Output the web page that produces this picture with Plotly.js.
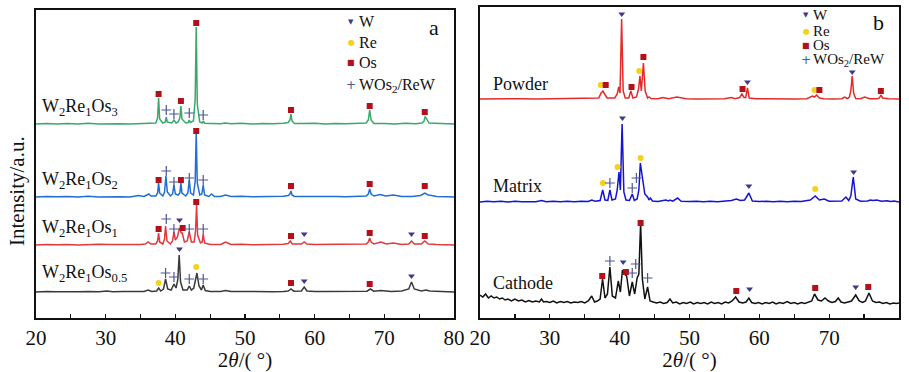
<!DOCTYPE html>
<html><head><meta charset="utf-8">
<script src="https://cdn.plot.ly/plotly-3.0.1.min.js"></script>
<style>html,body{margin:0;padding:0;background:#fff}</style>
</head><body><div id="chart" style="width:909px;height:372px"></div>
<script>
// ---------- Panel a: 2θ (deg) and intensity above each pattern's baseline (a.u.) ----------
const aNames = ['W<sub>2</sub>Re<sub>1</sub>Os<sub>3</sub>', 'W<sub>2</sub>Re<sub>1</sub>Os<sub>2</sub>', 'W<sub>2</sub>Re<sub>1</sub>Os<sub>1</sub>', 'W<sub>2</sub>Re<sub>1</sub>Os<sub>0.5</sub>'];
const aOffsets = [194, 121, 73, 26];

const os3X = [20,21.5,23,24.5,26,27.5,29,30.5,32,33.5,35,36.2,37.2,37.45,37.6,37.75,38.2,38.55,38.7,38.85,39.5,39.8,40.1,40.4,40.65,40.8,40.95,41.5,41.85,42.0,42.15,42.6,42.85,43.0,43.15,43.5,43.85,44.0,44.2,45.2,46.5,47.2,48,49.5,51,52.5,54,55.5,56.2,56.45,56.6,56.75,57.1,58.5,60,61.5,63,64.5,66,67.4,67.7,67.9,68.1,68.5,70,71.5,73,74.5,75.4,75.7,75.85,76.0,76.4,77.5,79,80];
const os3Y = [0,0.6,0,0.5,0,0.7,0,0.5,0.3,0,0.6,0.8,1,6,26,5,1,2,7,2,1,4,1,2,6,18,5,1,1.5,4,1.5,3,25,97,20,2,1,3,0.8,0.6,0.3,1,0.3,0.8,0,0.6,0.2,0.7,1.5,4,10,3,0.5,0.4,0.7,0,0.6,0.3,0.8,1,4,14,4,0.5,0.6,0,0.7,0.3,1,3,7,6,1,0.5,0.3,0];

const os2X = [20,21.5,23,24.5,26,27.5,29,30.5,32,33.5,34.7,35.5,36.0,36.2,36.5,37.2,37.45,37.6,37.75,38.2,38.45,38.65,38.85,39.3,39.6,39.8,40.0,40.4,40.65,40.8,40.95,41.5,41.8,42.0,42.2,42.6,42.85,43.0,43.15,43.5,43.8,44.0,44.2,44.8,45.2,45.6,46.5,47.2,48,49.5,51,52.5,54,55.5,56.2,56.45,56.6,56.75,57.1,58.5,60,61.5,63,64.5,66,67.4,67.7,67.9,68.1,68.5,69.4,70.2,71.3,72.5,74,75.2,75.8,76.3,76.8,77.5,79,80];
const os2Y = [0,0.6,0.2,0.5,0,0.7,0,0.5,0.3,0,1.5,0.5,2,3,1,1,4,14,4,1,5,21,5,1,3,12,3,2,4,14,4,1,4,17,4,2,16,64,14,2,3,12,2,0.5,3,0.5,0.5,2,0.5,0.8,0.3,0.6,0.3,0.7,1.5,3,6,2,0.5,0.6,0.4,0.5,0.4,0.2,0.8,1,3,8,3,1,2.5,1,2,0.5,0.5,1.5,4,2,1.5,0.5,0.3,0];

const os1X = [20,21.5,23,24.5,26,27.5,29,30.5,32,33.5,35,35.7,36.1,36.5,37.2,37.45,37.6,37.75,38.2,38.45,38.6,38.8,39.3,39.6,39.8,40.0,40.3,40.6,40.85,41.0,41.3,41.7,42.0,42.3,42.7,42.9,43.05,43.2,43.6,43.85,44.0,44.2,45,46.5,47.2,48,49.5,51,52.5,54,55.5,56.2,56.5,56.8,58.1,58.5,58.9,60,61.5,63,64.5,66,67.4,67.7,67.9,68.1,68.5,69.5,70.3,71.3,72.5,73.5,73.9,74.3,75.3,75.8,76.3,77.5,79,80];
const os1Y = [0,0.6,0.2,0.5,0,0.7,0.8,0.5,0.3,0,0.5,1,3,1,1,4,12,3,1,6,19,4,1,4,13,5,8,17,12,12,3,4,13,3,3,14,40,10,2,3,11,2,0.5,0.5,3,0.5,0.8,0.3,0.6,0.3,0.7,1.5,4,1,1,3,1,0.4,0.5,0.4,0.2,0.8,1,3,7,3,1,3,1,2,0.5,1,4,1,1,4,1,0.5,0.3,0];

const os05X = [20,21.5,23,24.5,26,27.5,29,30.2,31,32.5,34,35.5,36.1,36.6,37.3,37.6,37.9,38.3,38.6,38.9,39.4,39.8,40.1,40.35,40.55,40.75,41.1,41.7,42.0,42.3,42.65,42.9,43.1,43.4,43.75,44.0,44.3,45,46.5,47.2,48,49.5,51,52.5,54,55.5,56.2,56.6,57,58.1,58.5,58.9,60,61.5,63,64.5,66,67.5,68.0,68.5,69.5,71,72.5,73.5,73.9,74.3,75.3,76.0,76.5,77.5,79,80];
const os05Y = [0,0.5,0.2,0.6,0.3,0.5,0.3,1,0.3,0.5,0.3,0.5,2,0.5,1,4,1,3,13,3,2,8,4,12,37,10,2,2,6,2,4,15,19,6,2,7,1.5,0.5,0.5,1.5,0.5,0.6,0.3,0.6,0.3,0.5,1,3,0.8,1,5,1,0.4,0.5,0.4,0.8,0.5,0.8,3,0.8,1.5,0.5,1,3,10,3,1,2,1,0.5,0.3,0];

// phase markers of panel a: row = pattern index in aNames
const aMarkX = [37.6,38.7,39.8,40.8,42.0,43.0,44.0,56.6,67.9,75.8,
                37.6,38.7,39.8,40.8,42.0,43.0,44.0,56.6,67.9,75.8,
                37.6,38.7,39.8,40.6,41.05,42.0,43.0,44.0,56.6,58.5,67.9,73.9,75.8,
                37.6,38.6,39.8,40.6,42.0,43.0,44.0,56.6,58.5,67.9,73.9];
const aMarkH = [30,14,10,23,11,101,9,14,18,12,
                17,26,15,17,19,66,17,11,13,11,
                16,26,16,25,17,16,43,16,9,11,12,11,9,
                9,19,15,43,13,25,13,9,11,8,16];
const aMarkPhase = ['Os','X','X','Os','X','Os','X','Os','Os','Os',
                    'Os','X','X','Os','X','Os','X','Os','Os','Os',
                    'Os','X','X','W','Os','X','Os','X','Os','W','Os','W','Os',
                    'Re','X','X','W','X','Re','X','Os','W','Os','W'];
const aMarkRow = [0,0,0,0,0,0,0,0,0,0,
                  1,1,1,1,1,1,1,1,1,1,
                  2,2,2,2,2,2,2,2,2,2,2,2,2,
                  3,3,3,3,3,3,3,3,3,3,3];

// ---------- Panel b ----------
const bNames = ['Powder', 'Matrix', 'Cathode'];
const bOffsets = [219, 116, 14];

const powderX = [20,22,24,26,28,30,32,34,36,37.0,37.35,37.6,37.85,38.2,39.3,39.65,39.86,40.05,40.28,40.5,40.8,41.3,41.6,41.9,42.4,42.7,42.9,43.1,43.4,43.65,44.0,44.2,44.5,45.5,46.2,47,48.2,49.5,51,53,55,56.0,56.5,57.2,57.5,57.8,58.05,58.3,58.55,59.5,61,63,65,66.8,67.6,67.9,68.2,68.6,69.2,70.5,71.8,72.2,72.6,72.9,73.1,73.3,73.5,73.8,74.5,75.1,75.8,76.9,77.2,77.4,77.65,78.5,80];
const powderY = [0,0.2,0,0.3,0,0.2,0,0.3,0.3,1,6,8,5,1,1,5,12,6,80,8,1,1,8,1,2,10,23,8,36,8,1,2,0.5,0.3,1.5,0.3,2,0.3,0,0.2,0.2,1.5,0.3,1.5,5,1.5,1.5,11,1,0.2,0,0.2,0,0.3,3,2,4,1,0.3,0,0.3,2,0.5,2,8,23,6,0.5,0.3,2,0.3,0.3,1,4,1,0.2,0];

const matrixX = [20,21,22,23,24,25,26,27,28,28.8,29.5,30.5,31.5,32.5,33.5,34.5,35.5,36.0,36.5,37.2,37.57,37.9,38.3,38.6,38.9,39.4,39.65,39.9,40.1,40.35,40.6,40.9,41.4,41.8,42.1,42.5,42.75,42.96,43.2,43.35,43.6,44.0,44.2,44.4,44.7,45.5,46.6,47.0,47.2,47.6,48.3,48.8,50,51,52,53,54,55,56.0,56.7,57.3,57.9,58.5,59.0,60,61,62,63,64,65,66,67.3,68.0,68.6,69.3,70,71,71.8,72.4,72.8,73.1,73.45,73.8,74.5,75.5,75.9,76.3,76.8,77.5,78.3,78.8,79.3,80];
const matrixY = [0,0.8,0.2,0.7,0,0.8,0.2,0.6,0.3,1.5,0.3,0.8,0.2,0.7,0.3,0.8,0.5,2,0.8,1.5,12,2,1.5,12,2,3,12,30,12,78,10,2,1.5,8,1.5,3,12,39,25,20,8,5,2,4,1,0.5,2,1,2,0.8,4,0.8,0.5,0.8,0.2,0.7,0.3,0.8,1.5,3,1.5,2,9,1,0.5,0.8,0.2,0.7,0.3,0.8,0.5,2,6,2,3,0.8,0.5,1,5,1.5,6,25,3,0.8,1,2,1.5,2,0.8,1.2,0.5,1,0];

const cathodeX = [20,20.4,20.8,21.2,21.6,22,22.4,22.8,23.2,23.6,24,24.5,25,25.5,26,26.5,27,27.5,28,28.5,28.8,29.1,29.5,30,30.5,31,31.5,32,32.5,33,33.5,34,34.5,35,35.5,36.0,36.4,36.8,37.2,37.55,37.9,38.25,38.6,38.95,39.4,39.8,40.1,40.4,40.7,41.0,41.4,41.8,42.15,42.5,42.75,43.0,43.25,43.6,44.0,44.35,44.8,45.3,45.8,46.3,46.8,47.2,47.6,48.1,48.6,49.1,49.6,50.1,50.6,51.1,51.6,52.1,52.6,53.1,53.6,54.1,54.6,55.1,55.6,56.1,56.6,57.1,57.6,58.1,58.5,58.9,59.4,59.9,60.4,60.9,61.4,61.9,62.4,62.9,63.4,64.0,64.5,65,65.5,66,66.5,67,67.5,67.9,68.4,68.9,69.4,69.9,70.4,70.9,71.3,71.7,72.2,72.7,73.2,73.8,74.3,74.8,75.2,75.7,76.2,76.7,77.2,77.7,78.2,78.7,79.2,79.6,80];
const cathodeY = [9,7,10,6,8,6,7,5,6,4,5,3,5,3,4,2,3.5,2,3,2,5,2,2.5,1.5,3,1,2.5,1.5,2.5,1,2,1.5,2.5,1,3,8,2,3,5,25,6,10,37,8,6,23,12,34,30,28,8,22,10,26,30,81,25,5,17,3,2,1,2,0.5,1.5,5,1,2,0,1.5,0.5,2,0,1.5,0.5,1.5,0,2,0.5,1.5,0,2,1,3,7,2,1,2,6,1.5,0.5,1.5,0,1.5,0.5,2,0,1.5,0.5,2.5,0.5,1.5,0,1.5,0.5,2,3,10,4,3,6,3,1.5,2.5,6,2,1,2,3,9,3,1.5,3,11,3,1.5,2,0.5,1.5,0,1,0.5,1];

const bMarkX = [37.3,38.0,40.3,41.7,42.8,43.4,57.6,58.3,67.9,68.6,73.3,77.4,
                37.6,38.6,39.7,40.4,41.8,42.4,43.0,58.5,68.0,73.5,
                37.5,38.6,40.5,40.9,41.8,42.3,43.0,44.0,56.7,58.6,68.0,73.8,75.6];
const bMarkH = [14,14,85,12,28,42,10,17,9,9,27,8,
                19,19,35,84,14,24,44,16,13,30,
                28,43,42,32,31,40,81,26,13,15,16,17,17];
const bMarkPhase = ['Re','Os','W','Os','Re','Os','Os','W','Re','Os','W','Os',
                    'Re','X','Re','W','X','X','Re','W','Re','W',
                    'Os','X','W','Os','X','X','Os','X','Os','W','Os','W','Os'];
const bMarkRow = [0,0,0,0,0,0,0,0,0,0,0,0,
                  1,1,1,1,1,1,1,1,1,1,
                  2,2,2,2,2,2,2,2,2,2,2,2,2];

const phaseKeys = ['W','Re','Os','X'];
const phaseLabels = ['W','Re','Os','WOs<sub>2</sub>/ReW'];

// ---------- styles ----------
const FONT = 'Liberation Serif';
const aColors = ['#3aa86b', '#1f6fd4', '#e0393e', '#3a3a3a'];
const bColors = ['#e42a2a', '#1414d2', '#111111'];
const phaseStyle = {
  W:  {symbol: 'triangle-down', size: 6, color: '#3d3a8a'},
  Re: {symbol: 'circle', size: 6, color: '#f4d21a'},
  Os: {symbol: 'square', size: 6, color: '#b3101c'},
  X:  {symbol: 'cross-thin', size: 7, color: '#4b5894'}
};
const phaseGlyph = {W: ['▼', 7], Re: ['●', 8], Os: ['■', 8], X: ['+', 12]};

function check(n, a, b) { if (a.length !== b.length) throw new Error(n + ' length mismatch ' + a.length + ' vs ' + b.length); }
check('os3', os3X, os3Y); check('os2', os2X, os2Y); check('os1', os1X, os1Y); check('os05', os05X, os05Y);
check('powder', powderX, powderY); check('matrix', matrixX, matrixY); check('cathode', cathodeX, cathodeY);
check('aMark', aMarkX, aMarkH); check('aMarkP', aMarkX, aMarkPhase); check('aMarkR', aMarkX, aMarkRow);
check('bMark', bMarkX, bMarkH); check('bMarkP', bMarkX, bMarkPhase); check('bMarkR', bMarkX, bMarkRow);

const traces = [];
const aSeries = [[os3X, os3Y], [os2X, os2Y], [os1X, os1Y], [os05X, os05Y]];
aSeries.forEach((s, i) => traces.push({
  x: s[0], y: s[1].map(v => v + aOffsets[i]), type: 'scatter', mode: 'lines',
  line: {color: aColors[i], width: 1.5}, xaxis: 'x', yaxis: 'y', showlegend: false, hoverinfo: 'skip'
}));
const bSeries = [[powderX, powderY], [matrixX, matrixY], [cathodeX, cathodeY]];
bSeries.forEach((s, i) => traces.push({
  x: s[0], y: s[1].map(v => v + bOffsets[i]), type: 'scatter', mode: 'lines',
  line: {color: bColors[i], width: 1.5}, xaxis: 'x2', yaxis: 'y2', showlegend: false, hoverinfo: 'skip'
}));
function markerTraces(mx, mh, mp, mr, offs, xa, ya) {
  phaseKeys.forEach(k => {
    const xs = [], ys = [];
    mx.forEach((x, i) => { if (mp[i] === k) { xs.push(x); ys.push(offs[mr[i]] + mh[i]); } });
    const st = phaseStyle[k];
    const mk = {symbol: st.symbol, size: st.size, color: st.color};
    if (k === 'X') mk.line = {color: st.color, width: 1.2};
    traces.push({x: xs, y: ys, type: 'scatter', mode: 'markers', marker: mk,
      xaxis: xa, yaxis: ya, showlegend: false, hoverinfo: 'skip'});
  });
}
markerTraces(aMarkX, aMarkH, aMarkPhase, aMarkRow, aOffsets, 'x', 'y');
markerTraces(bMarkX, bMarkH, bMarkPhase, bMarkRow, bOffsets, 'x2', 'y2');

const W = 909, H = 372;
const px = v => v / W, py = v => 1 - v / H;
const annotations = [];
// series labels
const aLabelY = [210, 138, 90, 45];
aNames.forEach((n, i) => annotations.push({text: n, xref: 'x', yref: 'y', x: 20.6, y: aLabelY[i],
  xanchor: 'left', yanchor: 'middle', showarrow: false, font: {family: FONT, size: 18, color: '#111'}}));
const bLabelY = [234, 132, 35];
bNames.forEach((n, i) => annotations.push({text: n, xref: 'x2', yref: 'y2', x: 21.6, y: bLabelY[i],
  xanchor: 'left', yanchor: 'middle', showarrow: false, font: {family: FONT, size: 18, color: '#111'}}));
// phase keys
function key(gx, tx, rows, fs) {
  phaseKeys.forEach((k, i) => {
    annotations.push({text: phaseGlyph[k][0], xref: 'paper', yref: 'paper', x: px(gx), y: py(rows[i]),
      xanchor: 'center', yanchor: 'middle', showarrow: false,
      font: {family: 'DejaVu Sans', size: phaseGlyph[k][1], color: phaseStyle[k].color}});
    annotations.push({text: phaseLabels[i], xref: 'paper', yref: 'paper', x: px(tx), y: py(rows[i]),
      xanchor: 'left', yanchor: 'middle', showarrow: false, font: {family: FONT, size: fs, color: '#111'}});
  });
}
key(351, 357, [22, 42, 63, 85], 16);
key(806, 811, [15, 31, 45, 60], 15);
annotations.push({text: 'a', xref: 'paper', yref: 'paper', x: px(434), y: py(27), xanchor: 'center', yanchor: 'middle',
  showarrow: false, font: {family: FONT, size: 22, color: '#111'}});
annotations.push({text: 'b', xref: 'paper', yref: 'paper', x: px(878), y: py(23), xanchor: 'center', yanchor: 'middle',
  showarrow: false, font: {family: FONT, size: 22, color: '#111'}});
annotations.push({text: 'Intensity/a.u.', xref: 'paper', yref: 'paper', x: px(17), y: py(191), textangle: -90,
  xanchor: 'center', yanchor: 'middle', showarrow: false, font: {family: FONT, size: 21, color: '#111'}});

function xAxis(domain) {
  return {domain: domain, range: [20, 80], dtick: 10, tick0: 20, ticks: 'inside', ticklen: 4, tickwidth: 1.2,
    tickcolor: '#111', minor: {dtick: 5, ticks: 'inside', ticklen: 4, tickwidth: 1.2, tickcolor: '#111'},
    showline: true, mirror: true, linecolor: '#111', linewidth: 2, showgrid: false, zeroline: false,
    tickfont: {family: FONT, size: 21, color: '#111'},
    title: {text: '2<i>θ</i>/( °)', font: {family: FONT, size: 21, color: '#111'}, standoff: 2}};
}
function yAxis(domain, range, anchor) {
  return {domain: domain, range: range, anchor: anchor, showticklabels: false, ticks: '', showgrid: false,
    zeroline: false, showline: true, mirror: true, linecolor: '#111', linewidth: 2, fixedrange: true};
}
const layout = {
  width: W, height: H, margin: {l: 0, r: 0, t: 0, b: 0}, paper_bgcolor: '#fff', plot_bgcolor: '#fff',
  showlegend: false, font: {family: FONT, color: '#111'},
  xaxis: Object.assign(xAxis([px(36), px(454)]), {anchor: 'y'}),
  yaxis: yAxis([py(318), py(10)], [0, 308], 'x'),
  xaxis2: Object.assign(xAxis([px(480), px(899)]), {anchor: 'y2'}),
  yaxis2: yAxis([py(318), py(7)], [0, 311], 'x2'),
  annotations: annotations
};
Plotly.newPlot('chart', traces, layout, {staticPlot: true, displayModeBar: false});
</script></body></html>
